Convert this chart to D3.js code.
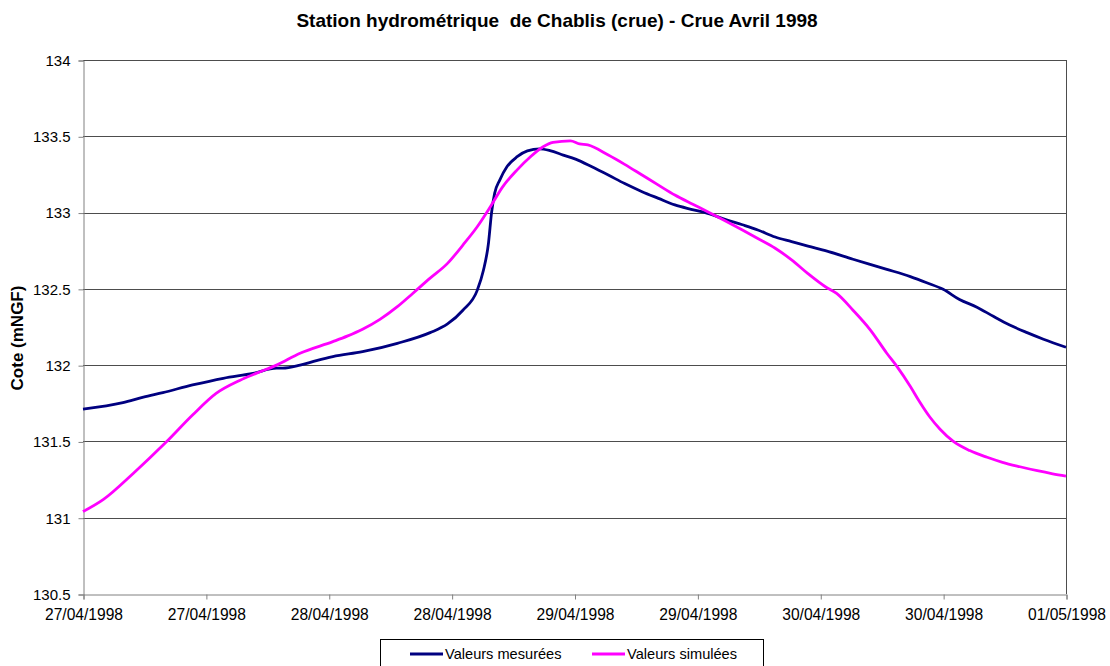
<!DOCTYPE html>
<html>
<head>
<meta charset="utf-8">
<script src="https://cdn.jsdelivr.net/npm/d3@7/dist/d3.min.js"></script>
<style>
  html, body { margin: 0; padding: 0; background: #fff; }
  svg { display: block; font-family: Arial, "Liberation Sans", sans-serif; }
</style>
</head>
<body>
<svg id="chart" width="1110" height="666"></svg>
<script>
// Water level at the Chablis gauging station, April 1998 flood.
// Times are hours after 27/04/1998 00:00, levels in m NGF.
const startDate = Date.UTC(1998, 3, 27);
const endDate = Date.UTC(1998, 4, 1);

const measuredHours = [0, 3.9, 5.9, 7.8, 10.7, 13.7, 16.6, 18.9, 19.5, 21.2, 22.8, 24.4, 27.3, 30.7,
  33.9, 35.6, 37.1, 38.5, 39.1, 39.6, 39.9, 40.2, 40.7, 41.4, 42.4, 43.4, 44.6, 45.6, 46.9,
  48.1, 49.7, 51.3, 52.9, 54.6, 56.2, 57.8, 59.5, 61.0, 62.7, 64.4, 65.9, 67.6, 69.2, 70.8,
  72.5, 75.2, 78.5, 80.8, 82.4, 84.0, 85.6, 87.3, 88.9, 90.5, 92.2, 93.8, 96];
const measuredValues = [131.711, 131.754, 131.79, 131.82, 131.87, 131.914, 131.946, 131.98, 131.98,
  132.0, 132.03, 132.056, 132.088, 132.143, 132.213, 132.27, 132.36, 132.49, 132.62, 132.8,
  133.0, 133.126, 133.213, 133.3, 133.366, 133.404, 133.417, 133.406, 133.377, 133.35, 133.3,
  133.246, 133.19, 133.137, 133.093, 133.05, 133.02, 132.995, 132.956, 132.92, 132.886,
  132.84, 132.81, 132.78, 132.75, 132.694, 132.628, 132.58, 132.54, 132.497, 132.43, 132.38,
  132.32, 132.263, 132.213, 132.17, 132.117];

const simulatedHours = [0, 2.0, 4.9, 8.1, 10.7, 13.0, 15.3, 16.9, 18.9, 21.2, 24.4, 25.8, 27.3, 29.0,
  30.7, 32.2, 33.9, 35.6, 37.1, 38.5, 39.8, 41.0, 42.4, 43.7, 44.9, 45.9, 47.6, 48.5, 49.3,
  51.3, 52.9, 54.6, 56.2, 57.8, 59.5, 61.0, 62.7, 64.4, 65.9, 67.6, 69.2, 70.8, 72.5, 73.6,
  75.2, 76.9, 78.5, 79.5, 80.8, 81.7, 82.7, 83.7, 85.0, 86.6, 88.3, 89.8, 91.5, 93.2, 94.7, 96];
const simulatedValues = [131.04, 131.12, 131.29, 131.494, 131.673, 131.815, 131.9, 131.946, 132.0,
  132.078, 132.154, 132.19, 132.235, 132.3, 132.383, 132.47, 132.57, 132.667, 132.787, 132.907,
  133.04, 133.17, 133.28, 133.366, 133.43, 133.46, 133.47, 133.45, 133.443, 133.377, 133.316,
  133.246, 133.18, 133.115, 133.056, 133.006, 132.947, 132.886, 132.83, 132.766, 132.69,
  132.6, 132.514, 132.47, 132.36, 132.23, 132.078, 131.99, 131.86, 131.76, 131.66, 131.58,
  131.5, 131.44, 131.396, 131.363, 131.334, 131.308, 131.288, 131.273];

const yTicks = [130.5, 131, 131.5, 132, 132.5, 133, 133.5, 134];

const seriesNames = ["Valeurs mesurées", "Valeurs simulées"];
const seriesColors = ["#000080", "#FF00FF"];

const titleText = "Station hydrométrique  de Chablis (crue) - Crue Avril 1998";
const yTitleText = "Cote (mNGF)";

const toDate = h => new Date(startDate + h * 3600e3);
const series = [
  measuredHours.map((h, i) => ({ t: toDate(h), v: measuredValues[i] })),
  simulatedHours.map((h, i) => ({ t: toDate(h), v: simulatedValues[i] }))
];

const svg = d3.select("#chart");
const plot = { left: 83, right: 1066, top: 60, bottom: 594 };

const x = d3.scaleUtc().domain([new Date(startDate), new Date(endDate)]).range([plot.left, plot.right]);
const y = d3.scaleLinear().domain([130.5, 134]).range([plot.bottom, plot.top]);

// horizontal gridlines
svg.append("g")
  .selectAll("line")
  .data(yTicks.filter(d => d > 130.5))
  .join("line")
  .attr("x1", plot.left).attr("x2", plot.right)
  .attr("y1", d => Math.round(y(d)) + 0.5).attr("y2", d => Math.round(y(d)) + 0.5)
  .attr("stroke", "#4d4d4d").attr("stroke-width", 1);

// right border of the plot area
svg.append("line")
  .attr("x1", plot.right + 0.5).attr("x2", plot.right + 0.5)
  .attr("y1", plot.top).attr("y2", plot.bottom)
  .attr("stroke", "#4d4d4d");

// axes
const yAxis = d3.axisLeft(y).tickValues(yTicks).tickSize(5).tickPadding(8).tickFormat(d => String(d));
const gy = svg.append("g").attr("transform", `translate(${plot.left + 0.5},0.5)`).call(yAxis);
gy.selectAll("path, line").attr("stroke", "#808080");
gy.selectAll("text").attr("font-size", 15).attr("fill", "#000").attr("font-family", "Arial, 'Liberation Sans', sans-serif");

const xAxis = d3.axisBottom(x).ticks(d3.utcHour.every(12)).tickSize(5).tickPadding(9)
  .tickFormat(d3.utcFormat("%d/%m/%Y"));
const gx = svg.append("g").attr("transform", `translate(0.5,${plot.bottom + 0.5})`).call(xAxis);
gx.selectAll("path, line").attr("stroke", "#808080");
gx.selectAll("text").attr("font-size", 15.6).attr("fill", "#000").attr("font-family", "Arial, 'Liberation Sans', sans-serif");

// series lines
const line = d3.line().x(d => x(d.t)).y(d => y(d.v)).curve(d3.curveMonotoneX);
svg.append("g")
  .selectAll("path")
  .data(series)
  .join("path")
  .attr("d", line)
  .attr("fill", "none")
  .attr("stroke", (d, i) => seriesColors[i])
  .attr("stroke-width", 2.8)
  .attr("stroke-linejoin", "round");

// title
svg.append("text")
  .attr("x", 557).attr("y", 27)
  .attr("text-anchor", "middle")
  .attr("font-size", 19).attr("font-weight", "bold")
  .attr("xml:space", "preserve")
  .style("white-space", "pre")
  .text(titleText);

// y axis title
svg.append("text")
  .attr("transform", "translate(23,338) rotate(-90)")
  .attr("text-anchor", "middle")
  .attr("font-size", 17).attr("font-weight", "bold")
  .text(yTitleText);

// legend
const legend = svg.append("g");
legend.append("rect")
  .attr("x", 380.5).attr("y", 639.5).attr("width", 383).attr("height", 40)
  .attr("fill", "#fff").attr("stroke", "#000");
const legendX = [410, 592];
seriesNames.forEach((name, i) => {
  legend.append("line")
    .attr("x1", legendX[i]).attr("x2", legendX[i] + 33)
    .attr("y1", 654).attr("y2", 654)
    .attr("stroke", seriesColors[i]).attr("stroke-width", 3);
  legend.append("text")
    .attr("x", legendX[i] + 35).attr("y", 659)
    .attr("font-size", 14.6)
    .text(name);
});
</script>
</body>
</html>
